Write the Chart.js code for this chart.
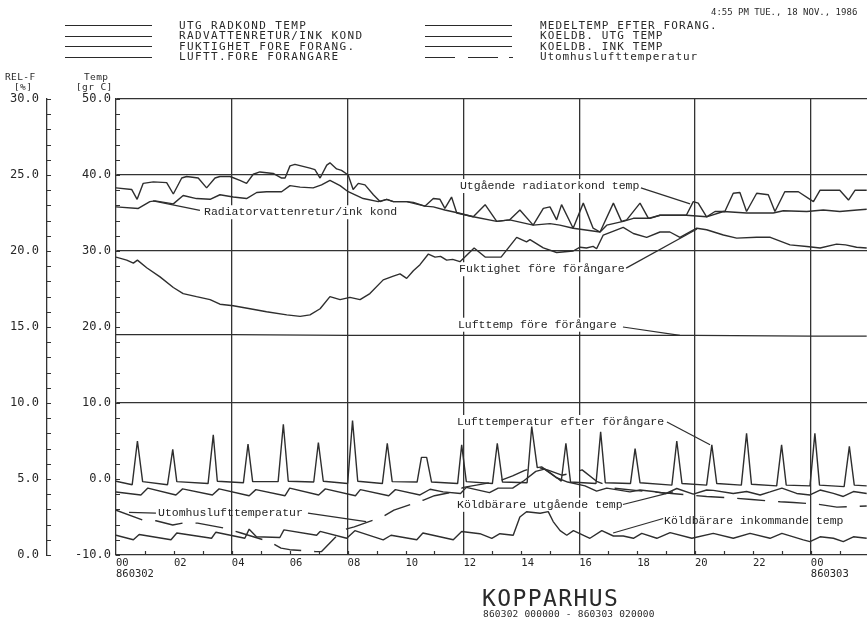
<!DOCTYPE html>
<html><head><meta charset="utf-8"><title>KOPPARHUS</title>
<script src="https://cdn.jsdelivr.net/npm/chart.js@4.4.1/dist/chart.umd.min.js"></script>
<style>
html,body{margin:0;padding:0;background:#fff;overflow:hidden;}
#wrap{position:relative;width:867px;height:621px;background:#fff;}
#c{position:absolute;left:0;top:0;}
.t{position:absolute;font-family:"DejaVu Sans Mono",monospace;color:#2a2a2a;white-space:pre;line-height:1;}
.lg{font-size:11px;letter-spacing:1.4px;}
.ax{font-size:9.5px;letter-spacing:0.4px;}
.ln{position:absolute;height:0;border-top:1.5px solid #2a2a2a;}
</style></head><body>
<div id="wrap">
<canvas id="c" width="867" height="621"></canvas>
<div class="t" style="left:711px;top:8px;font-size:9px;">4:55 PM TUE., 18 NOV., 1986</div>

<div class="ln" style="left:65px;width:87px;top:25px;"></div>
<div class="ln" style="left:65px;width:87px;top:35.5px;"></div>
<div class="ln" style="left:65px;width:87px;top:46px;"></div>
<div class="ln" style="left:65px;width:87px;top:56.5px;"></div>
<div class="t lg" style="left:179px;top:19.7px;">UTG RADKOND TEMP</div>
<div class="t lg" style="left:179px;top:30.2px;">RADVATTENRETUR/INK KOND</div>
<div class="t lg" style="left:179px;top:40.7px;">FUKTIGHET FORE FORANG.</div>
<div class="t lg" style="left:179px;top:51.2px;">LUFTT.FORE FORANGARE</div>

<div class="ln" style="left:425px;width:87px;top:25px;"></div>
<div class="ln" style="left:425px;width:87px;top:35.5px;"></div>
<div class="ln" style="left:425px;width:87px;top:46px;"></div>
<div class="ln" style="left:425px;width:30px;top:56.5px;"></div>
<div class="ln" style="left:468px;width:30px;top:56.5px;"></div>
<div class="ln" style="left:509px;width:4px;top:56.5px;"></div>
<div class="t lg" style="left:540px;top:19.7px;letter-spacing:1.1px;">MEDELTEMP EFTER FORANG.</div>
<div class="t lg" style="left:540px;top:30.2px;letter-spacing:1.1px;">KOELDB. UTG TEMP</div>
<div class="t lg" style="left:540px;top:40.7px;letter-spacing:1.1px;">KOELDB. INK TEMP</div>
<div class="t lg" style="left:540px;top:51.2px;letter-spacing:0.9px;">Utomhuslufttemperatur</div>

<div class="t ax" style="left:5px;top:71.5px;">REL-F</div>
<div class="t ax" style="left:14px;top:81.5px;">[%]</div>
<div class="t ax" style="left:84px;top:71.5px;">Temp</div>
<div class="t ax" style="left:76px;top:81.5px;">[gr C]</div>

<div class="t" style="left:482px;top:587px;font-size:23px;letter-spacing:1.4px;">KOPPARHUS</div>
<div class="t" style="left:483px;top:608.5px;font-size:9.5px;letter-spacing:0.2px;">860302 000000 - 860303 020000</div>
</div>
<script>
// ---------------- data (hours since 860302 00:00, temperatures in gr C, humidity in %) ----------------
const radkondHours = [0,0.54,0.73,0.94,1.29,1.75,1.98,2.27,2.44,2.84,3.13,3.42,3.59,3.94,4.28,4.51,4.74,4.97,5.43,5.72,5.84,6.01,6.18,6.70,6.87,7.05,7.28,7.39,7.62,7.79,8.02,8.19,8.37,8.60,8.89,9.12,9.35,9.58,10.04,10.27,10.67,10.96,11.19,11.36,11.59,11.77,12.34,12.75,13.15,13.6,13.95,14.41,14.76,14.99,15.22,15.39,15.79,16.14,16.48,16.72,17.18,17.46,17.64,18.1,18.39,18.79,19.25,19.7,19.94,20.11,20.4,20.69,21.03,21.32,21.55,21.78,22.13,22.53,22.76,23.1,23.57,24.09,24.32,24.72,25.0,25.3,25.53,25.93];
const radkondTemp  = [38.3,38.1,36.8,38.9,39.1,39.0,37.5,39.6,39.8,39.6,38.3,39.6,39.8,39.8,39.3,38.9,40.1,40.4,40.2,39.6,39.6,41.2,41.4,40.9,40.7,39.6,41.3,41.6,40.8,40.6,40.0,38.1,38.9,38.7,37.4,36.5,36.8,36.5,36.5,36.4,35.9,36.9,36.8,35.6,37.1,35.0,34.5,36.1,33.9,34.1,35.4,33.4,35.6,35.8,34.1,36.1,33.0,36.3,33.0,32.5,36.3,33.9,34.1,36.3,34.3,34.7,34.7,34.7,36.5,36.3,34.5,35.2,35.2,37.6,37.7,35.2,37.6,37.4,35.2,37.8,37.8,36.5,38.0,38.0,38.0,36.7,38.0,38.0];

const returHours = [0,0.77,1.17,1.35,1.98,2.32,2.78,3.25,3.59,4.05,4.51,4.86,5.2,5.72,6.01,6.36,6.81,7.1,7.39,7.74,8.02,8.54,9.06,9.35,9.58,10.04,10.67,10.96,11.36,11.83,12.34,13.15,13.6,14.41,14.99,15.33,15.79,16.72,16.95,17.52,17.87,18.45,18.79,19.7,20.4,20.98,21.78,22.7,23.05,23.86,24.43,25.0,25.6,25.93];
const returTemp  = [35.8,35.6,36.5,36.6,36.2,37.3,36.9,36.8,37.4,37.1,36.9,37.7,37.8,37.8,38.6,38.4,38.3,38.7,39.3,38.6,37.8,36.9,36.5,36.8,36.5,36.5,35.9,35.8,35.4,35.0,34.5,33.9,34.1,33.4,33.6,33.4,33.0,32.5,33.4,33.9,34.3,34.3,34.7,34.7,34.5,35.2,35.0,35.0,35.3,35.2,35.4,35.2,35.4,35.5];

const fuktHours = [0,0.37,0.6,0.74,1.06,1.52,1.98,2.32,2.78,3.25,3.59,4.05,4.63,5.2,5.9,6.36,6.7,7.05,7.39,7.74,8.08,8.43,8.77,9.23,9.58,9.81,10.04,10.27,10.5,10.79,11.02,11.21,11.42,11.63,11.88,12.05,12.37,12.75,13.3,13.84,14.18,14.3,14.76,15.22,15.79,16.03,16.25,16.48,16.6,16.83,17.52,17.87,18.33,18.79,19.13,19.48,20.06,20.4,20.98,21.44,22.13,22.6,23.28,23.86,24.32,24.89,25.2,25.58,25.93];
const fuktRH    = [19.6,19.4,19.2,19.4,18.9,18.3,17.6,17.2,17.0,16.8,16.5,16.4,16.2,16.0,15.8,15.7,15.8,16.2,17.0,16.8,16.95,16.8,17.2,18.1,18.35,18.5,18.2,18.7,19.1,19.8,19.6,19.65,19.4,19.45,19.3,19.6,20.2,19.6,19.6,20.9,20.6,20.75,20.2,19.9,20.0,20.25,20.2,20.3,20.15,21.05,21.55,21.15,20.9,21.25,21.25,20.9,21.5,21.4,21.05,20.85,20.9,20.9,20.4,20.3,20.2,20.45,20.4,20.25,20.2];

const foreHours = [0,4,8,12,16,20,24,25.93];
const foreTemp  = [19.0,19.0,18.9,18.9,18.9,18.9,18.8,18.8];

const efterHours = [0,0.56,0.74,0.92,1.78,1.96,2.1,3.18,3.36,3.5,4.4,4.56,4.72,5.6,5.78,5.95,6.83,6.99,7.16,8.0,8.17,8.35,9.2,9.37,9.54,10.4,10.55,10.73,10.9,11.8,11.94,12.1,13.0,13.17,13.35,14.2,14.36,14.55,14.7,15.0,15.25,15.38,15.54,15.7,16.58,16.74,16.9,17.77,17.93,18.1,19.2,19.37,19.55,20.4,20.58,20.75,21.6,21.78,21.95,22.82,22.99,23.15,23.97,24.14,24.3,25.15,25.33,25.5,25.93];
const efterTemp  = [-0.3,-0.75,5.0,-0.35,-0.75,3.9,-0.35,-0.6,5.8,-0.3,-0.5,4.6,-0.35,-0.35,7.2,-0.3,-0.4,4.8,-0.3,-0.6,7.7,-0.3,-0.6,4.7,-0.35,-0.4,2.85,2.85,-0.4,-0.6,4.5,-0.35,-0.6,4.7,-0.4,-0.5,6.9,1.5,1.6,0.8,0.1,-0.3,4.7,-0.4,-0.6,6.2,-0.5,-0.6,4.0,-0.5,-0.8,5.0,-0.6,-0.8,4.5,-0.6,-0.8,6.0,-0.7,-0.9,4.5,-0.8,-0.9,6.0,-0.8,-1.0,4.3,-0.8,-0.9];

const utgHours = [0,0.86,1.1,2.07,2.3,3.33,3.56,4.6,4.83,5.84,6.0,7.0,7.23,8.27,8.44,9.42,9.65,10.5,10.85,11.3,11.9,12.1,12.9,13.2,13.7,14.1,14.5,14.8,15.2,15.6,16.2,16.6,16.95,17.75,18.1,18.56,19.0,19.37,19.94,20.4,20.63,21.32,21.78,22.25,22.59,23.0,23.51,23.97,24.32,24.78,25.12,25.47,25.93];
const utgTemp  = [-1.7,-2.1,-1.2,-2.1,-1.3,-2.1,-1.3,-2.2,-1.4,-2.2,-1.2,-2.1,-1.3,-2.2,-1.4,-2.2,-1.4,-2.1,-1.35,-1.7,-1.9,-1.1,-1.8,-1.2,-1.2,-0.2,1.0,1.3,0.2,-0.4,-0.9,-1.6,-1.2,-1.7,-1.45,-1.65,-1.9,-1.25,-2.0,-1.45,-1.5,-1.9,-1.65,-2.1,-1.7,-1.2,-1.9,-2.1,-1.45,-1.9,-2.3,-1.65,-1.9];

const inkHours = [0,0.6,0.8,1.9,2.1,3.3,3.45,4.45,4.6,4.85,5.66,5.8,6.93,7.05,7.97,8.25,9.23,9.5,10.39,10.6,11.65,11.94,12.57,12.98,13.26,13.72,13.95,14.18,14.65,14.93,15.1,15.34,15.57,15.8,16.37,16.78,17.18,17.52,17.87,18.16,18.68,19.14,19.89,20.63,21.32,21.9,22.59,23.0,23.74,23.97,24.32,24.78,25.12,25.47,25.93];
const inkTemp  = [-7.4,-8.0,-7.3,-8.0,-7.1,-7.8,-7.0,-7.8,-6.6,-7.6,-7.7,-6.7,-7.4,-6.9,-7.8,-6.8,-8.0,-7.4,-8.0,-7.1,-8.0,-6.9,-7.2,-7.8,-7.2,-7.4,-5.0,-4.3,-4.5,-4.3,-5.6,-6.8,-7.4,-6.8,-7.8,-6.8,-7.5,-7.5,-7.8,-7.15,-7.8,-7.05,-7.8,-7.15,-7.8,-7.15,-7.8,-7.15,-8.0,-8.25,-7.6,-7.8,-8.25,-7.6,-7.8];

const uteHours = [0,0.92,1.38,1.96,2.3,2.82,3.8,4.32,5.3,5.7,6.0,6.9,7.1,7.83,8.23,9.2,9.6,10.6,11.0,11.65,12.0,12.6,13.2,13.7,14.1,14.5,14.9,15.4,15.8,16.1,16.6,17.2,18.2,19.2,20.4,21.32,21.96,22.94,23.4,24.2,24.9,25.93];
const uteTemp  = [-4.1,-5.4,-5.5,-6.05,-5.8,-5.8,-6.5,-7.1,-8.25,-9.1,-9.3,-9.55,-9.55,-6.7,-6.3,-5.0,-4.1,-2.8,-2.2,-1.7,-1.1,-0.7,-0.3,0.4,1.1,1.6,1.2,0.5,0.8,1.2,-0.3,-1.2,-1.6,-1.9,-2.3,-2.5,-2.7,-3.0,-3.1,-3.3,-3.7,-3.55];

// ---------------- ticks ----------------
const hourTickValues = [0,1,2,3,4,5,6,7,8,9,10,11,12,13,14,15,16,17,18,19,20,21,22,23,24,25];
const hourGridValues = [4,8,12,16,20,24];
const xLabelHours = [0,2,4,6,8,10,12,14,16,18,20,22,24];
const xLabelText  = [['00','860302'],'02','04','06','08','10','12','14','16','18','20','22',['00','860303']];
const tempTickValues = [-10,0,10,20,30,40,50];
const tempGridValues = [10,30,40,50];
const tempMinorTicks = [-10,-8,-6,-4,-2,0,2,4,6,8,10,12,14,16,18,20,22,24,26,28,30,32,34,36,38,40,42,44,46,48,50];
const rhTickValues = [0,5,10,15,20,25,30];
const rhMinorTicks = [0,1,2,3,4,5,6,7,8,9,10,11,12,13,14,15,16,17,18,19,20,21,22,23,24,25,26,27,28,29,30];

// ---------------- styling ----------------
const LINE = '#2e2e2e';
const GRID = '#333333';
const TXT = '#262626';
const CLEAR = 'rgba(0,0,0,0)';
const X_MAX = 25.94;
const NOTE_FONT = '11.5px "Liberation Mono", "DejaVu Sans Mono", monospace';

const notes = [
  {text:'Utgående radiatorkond temp', at:[11.88,38.55], box:true, lead:[[18.13,38.3],[19.83,36.2]]},
  {text:'Radiatorvattenretur/ink kond', at:[3.04,35.1], box:true, lead:[[2.9,35.35],[1.28,36.6]]},
  {text:'Fuktighet före förångare', at:[11.85,27.6], box:true, lead:[[17.62,27.75],[20.07,32.9]]},
  {text:'Lufttemp före förångare', at:[11.81,20.3], box:true, lead:[[17.51,20.0],[19.48,18.9]]},
  {text:'Lufttemperatur efter förångare', at:[11.78,7.5], box:true, lead:[[19.03,7.5],[20.52,4.5]]},
  {text:'Köldbärare utgående temp', at:[11.78,-3.4], box:true, lead:[[17.51,-3.35],[19.24,-1.7]]},
  {text:'Köldbärare inkommande temp', at:[18.93,-5.5], box:false, lead:[[18.9,-5.2],[17.17,-7.1]]},
  {text:'Utomhuslufttemperatur', at:[1.45,-4.5], box:false, lead:[[1.38,-4.5],[0.45,-4.4]], lead2:[[6.63,-4.5],[8.64,-5.6]]}
];

const toXY = (hs, vs) => hs.map((h, i) => ({x: h, y: vs[i]}));
function series(label, hs, vs, axis, dash) {
  return {label, data: toXY(hs, vs), yAxisID: axis, borderColor: LINE, backgroundColor: LINE,
    borderWidth: 1.4, pointRadius: 0, pointHoverRadius: 0, tension: 0, fill: false,
    borderDash: dash || [], borderJoinStyle: 'bevel', borderCapStyle: 'butt'};
}

const decor = {
  id: 'decor',
  beforeDatasetsDraw(chart) {
    const {ctx, scales: {x, y}} = chart;
    ctx.save();
    ctx.font = NOTE_FONT;
    ctx.fillStyle = '#ffffff';
    notes.forEach(n => {
      if (!n.box) return;
      const px = x.getPixelForValue(n.at[0]), py = y.getPixelForValue(n.at[1]);
      const w = ctx.measureText(n.text).width;
      ctx.fillRect(px - 2, py - 7, w + 4, 14);
    });
    ctx.restore();
  },
  afterDatasetsDraw(chart) {
    const {ctx, scales: {x, y, y1}, chartArea: a} = chart;
    ctx.save();
    ctx.strokeStyle = GRID;
    ctx.lineWidth = 1.2;
    ctx.beginPath();
    tempMinorTicks.forEach(v => { const py = Math.round(y.getPixelForValue(v)) + 0.5; ctx.moveTo(a.left, py); ctx.lineTo(a.left + 4, py); });
    rhMinorTicks.forEach(v => { const py = Math.round(y1.getPixelForValue(v)) + 0.5; ctx.moveTo(y1.right, py); ctx.lineTo(y1.right + 4, py); });
    hourTickValues.forEach(h => { if (h === 0) return; const px = Math.round(x.getPixelForValue(h)) + 0.5; ctx.moveTo(px, a.bottom); ctx.lineTo(px, a.bottom - 4); });
    ctx.stroke();

    ctx.strokeStyle = LINE;
    ctx.lineWidth = 1.2;
    const poly = pts => { ctx.beginPath(); pts.forEach((p, i) => { const px = x.getPixelForValue(p[0]), py = y.getPixelForValue(p[1]); if (i) ctx.lineTo(px, py); else ctx.moveTo(px, py); }); ctx.stroke(); };
    notes.forEach(n => { poly(n.lead); if (n.lead2) poly(n.lead2); });

    ctx.font = NOTE_FONT;
    ctx.fillStyle = TXT;
    ctx.textBaseline = 'middle';
    ctx.textAlign = 'left';
    notes.forEach(n => ctx.fillText(n.text, x.getPixelForValue(n.at[0]), y.getPixelForValue(n.at[1])));
    ctx.restore();
  }
};

const tickFont = {family: '"DejaVu Sans Mono", monospace', size: 12};

new Chart(document.getElementById('c'), {
  type: 'line',
  data: {
    datasets: [
      series('UTG RADKOND TEMP', radkondHours, radkondTemp, 'y'),
      series('RADVATTENRETUR/INK KOND', returHours, returTemp, 'y'),
      series('FUKTIGHET FORE FORANG.', fuktHours, fuktRH, 'y1'),
      series('LUFTT.FORE FORANGARE', foreHours, foreTemp, 'y'),
      series('MEDELTEMP EFTER FORANG.', efterHours, efterTemp, 'y'),
      series('KOELDB. UTG TEMP', utgHours, utgTemp, 'y'),
      series('KOELDB. INK TEMP', inkHours, inkTemp, 'y'),
      series('Utomhuslufttemperatur', uteHours, uteTemp, 'y', [28, 13])
    ]
  },
  options: {
    responsive: false,
    animation: false,
    devicePixelRatio: 1,
    layout: {padding: {top: 99, right: 0, bottom: 0, left: 0}},
    plugins: {legend: {display: false}, tooltip: {enabled: false}},
    scales: {
      x: {
        type: 'linear', position: 'bottom', min: 0, max: X_MAX,
        afterBuildTicks: s => { s.ticks = hourTickValues.map(v => ({value: v})); },
        afterFit: s => { s.height = 66; },
        grid: {drawTicks: false, lineWidth: 1.3, color: c => (c.tick && hourGridValues.includes(c.tick.value)) ? GRID : CLEAR},
        border: {display: true, color: GRID, width: 1.3},
        ticks: {
          autoSkip: false, maxRotation: 0, minRotation: 0, align: 'start', padding: 3, color: TXT,
          font: {family: '"DejaVu Sans Mono", monospace', size: 10.5, lineHeight: 1.05},
          callback: v => { const i = xLabelHours.indexOf(v); return i < 0 ? '' : xLabelText[i]; }
        }
      },
      y: {
        type: 'linear', position: 'left', min: -10, max: 50, weight: 0,
        afterBuildTicks: s => { s.ticks = tempTickValues.map(v => ({value: v})); },
        afterFit: s => { s.width = 69; },
        grid: {drawTicks: false, lineWidth: 1.3, color: c => (c.tick && tempGridValues.includes(c.tick.value)) ? GRID : CLEAR},
        border: {display: true, color: GRID, width: 1.3},
        ticks: {padding: 5, color: TXT, font: tickFont, callback: v => v.toFixed(1)}
      },
      y1: {
        type: 'linear', position: 'left', min: 0, max: 30, weight: 1,
        afterBuildTicks: s => { s.ticks = rhTickValues.map(v => ({value: v})); },
        afterFit: s => { s.width = 47; },
        grid: {display: false, drawTicks: false},
        border: {display: true, color: GRID, width: 1.3},
        ticks: {padding: 8, color: TXT, font: tickFont, callback: v => v.toFixed(1)}
      }
    }
  },
  plugins: [decor]
});
</script>
</body></html>
